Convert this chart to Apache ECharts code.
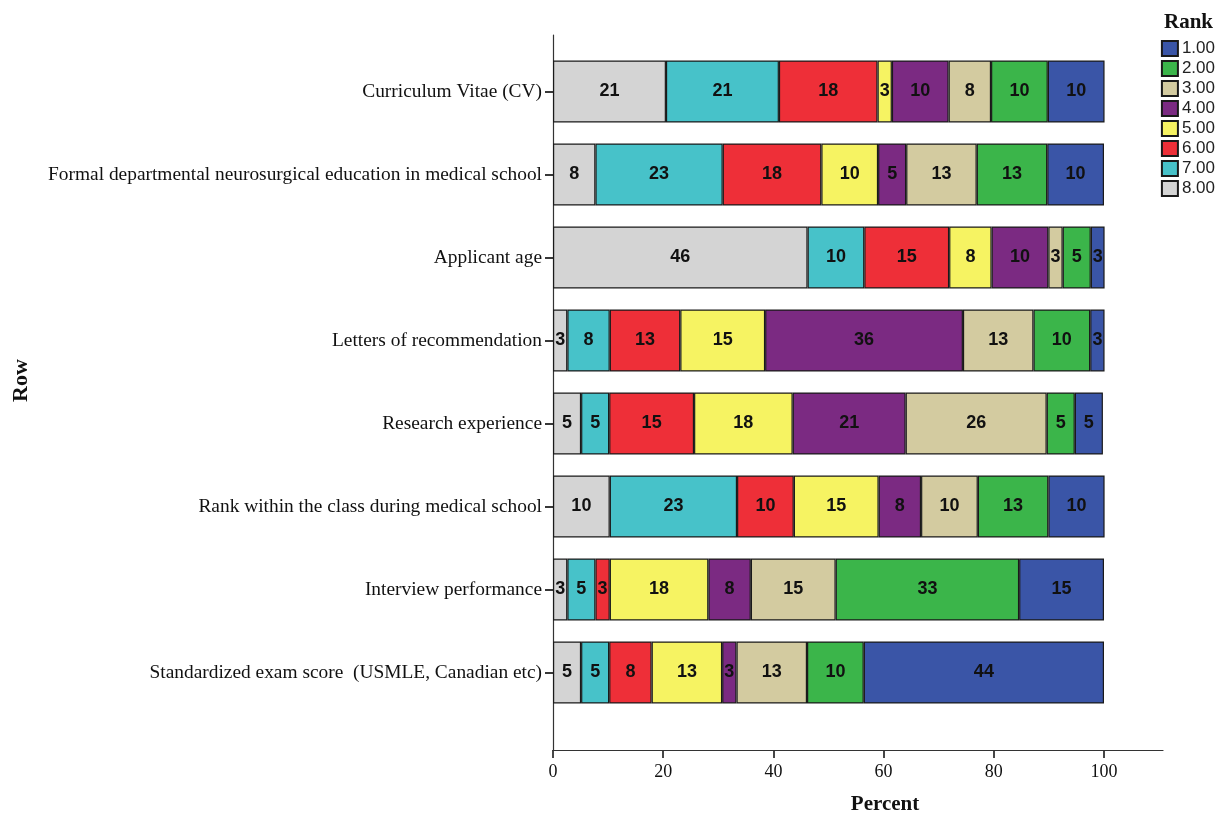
<!DOCTYPE html>
<html>
<head>
<meta charset="utf-8">
<script src="https://cdn.jsdelivr.net/npm/echarts@6/dist/echarts.min.js"></script>
<style>html,body{margin:0;padding:0;background:#fff;}#c{width:1222px;height:813px;}</style>
</head>
<body>
<div id="c"></div>
<script>
const categories = [
  'Curriculum Vitae (CV)',
  'Formal departmental neurosurgical education in medical school',
  'Applicant age',
  'Letters of recommendation',
  'Research experience',
  'Rank within the class during medical school',
  'Interview performance',
  'Standardized exam score  (USMLE, Canadian etc)'
];
const rankNames = ['8.00','7.00','6.00','5.00','4.00','3.00','2.00','1.00'];
const rank8 = [20.5, 7.7, 46.2, 2.6, 5.1, 10.3, 2.6, 5.1];
const rank7 = [20.5, 23.1, 10.3, 7.7, 5.1, 23.1, 5.1, 5.1];
const rank6 = [17.9, 17.9, 15.4, 12.8, 15.4, 10.3, 2.6, 7.7];
const rank5 = [2.6, 10.3, 7.7, 15.4, 17.9, 15.4, 17.9, 12.8];
const rank4 = [10.3, 5.1, 10.3, 35.9, 20.5, 7.7, 7.7, 2.6];
const rank3 = [7.7, 12.8, 2.6, 12.8, 25.6, 10.3, 15.4, 12.8];
const rank2 = [10.3, 12.8, 5.1, 10.3, 5.1, 12.8, 33.3, 10.3];
const rank1 = [10.3, 10.3, 2.6, 2.6, 5.1, 10.3, 15.4, 43.6];
const xTicks = [0, 20, 40, 60, 80, 100];

const seriesValues = [rank8, rank7, rank6, rank5, rank4, rank3, rank2, rank1];
const colors = ['#d4d4d4','#47c2c9','#ee2f38','#f6f362','#7b2a82','#d3cba0','#3bb54a','#3a55a7'];

const chart = echarts.init(document.getElementById('c'));
const series = rankNames.map((name, i) => ({
  name: name,
  type: 'bar',
  stack: 'total',
  xAxisIndex: 0,
  yAxisIndex: 0,
  barWidth: 62,
  data: seriesValues[i],
  itemStyle: { color: colors[i], borderColor: '#1a1a1a', borderWidth: 1.2 },
  label: {
    show: true,
    position: 'inside',
    formatter: p => Math.round(p.value),
    fontFamily: 'Liberation Sans, Arial, sans-serif',
    fontWeight: 'bold',
    fontSize: 18,
    color: '#111'
  },
  emphasis: { disabled: true }
}));

chart.setOption({
  backgroundColor: '#fff',
  animation: false,
  title: {
    text: 'Rank',
    right: 4,
    top: 7,
    textStyle: { fontFamily: 'Liberation Serif, Times New Roman, serif', fontWeight: 'bold', fontSize: 21, color: '#111' }
  },
  legend: {
    orient: 'vertical',
    right: 2,
    top: 35,
    itemWidth: 16,
    itemHeight: 15,
    itemGap: 3,
    data: ['1.00','2.00','3.00','4.00','5.00','6.00','7.00','8.00'],
    textStyle: { fontFamily: 'Liberation Sans, Arial, sans-serif', fontSize: 17, lineHeight: 17, color: '#222', padding: [0,0,0,-1] },
    icon: 'rect'
  },
  grid: [
    { left: 553, right: 118, top: 50, bottom: 99, outerBoundsMode: 'none' },
    { left: 553, right: 59, top: 35, bottom: 63, outerBoundsMode: 'none' }
  ],
  xAxis: [
    { gridIndex: 0, type: 'value', min: 0, max: 100, show: false },
    {
      gridIndex: 1, type: 'value', min: 0, max: 110.7,
      axisLine: { show: true, lineStyle: { color: '#333', width: 1.2 } },
      axisTick: { show: true, length: 8, customValues: xTicks, lineStyle: { color: '#333', width: 1.8 } },
      axisLabel: { customValues: xTicks, fontFamily: 'Liberation Serif, Times New Roman, serif', fontSize: 18, color: '#111', margin: 13 },
      splitLine: { show: false },
      name: 'Percent',
      nameLocation: 'middle',
      nameGap: 44,
      nameTextStyle: { fontFamily: 'Liberation Serif, Times New Roman, serif', fontWeight: 'bold', fontSize: 21, color: '#111', padding: [0, 0, 0, 54] }
    }
  ],
  yAxis: [
    {
      gridIndex: 0, type: 'category', data: categories, inverse: true,
      axisLine: { show: false },
      axisTick: { show: true, alignWithLabel: true, length: 8, lineStyle: { color: '#222', width: 1.8 } },
      axisLabel: { fontFamily: 'Liberation Serif, Times New Roman, serif', fontSize: 19.4, color: '#111', margin: 11 }
    },
    {
      gridIndex: 1, type: 'value', min: 0, max: 1,
      axisLine: { show: true, lineStyle: { color: '#333', width: 1.2 } },
      axisTick: { show: false },
      axisLabel: { show: false },
      splitLine: { show: false },
      name: 'Row',
      nameLocation: 'middle',
      nameGap: 521,
      nameRotate: 90,
      nameTextStyle: { fontFamily: 'Liberation Serif, Times New Roman, serif', fontWeight: 'bold', fontSize: 22, color: '#111', padding: [0, 0, 0, 24] }
    }
  ],
  series: series
});
</script>
</body>
</html>
